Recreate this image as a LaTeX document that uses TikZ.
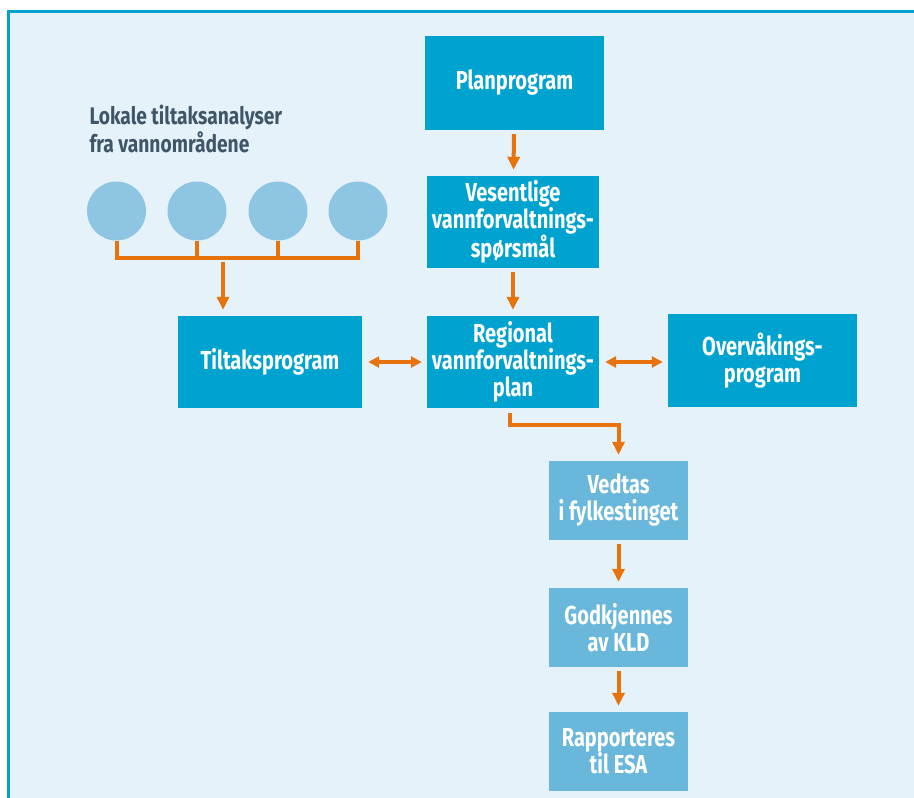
\documentclass[tikz,border=0pt]{standalone}
\usepackage{fontspec}
\newfontfamily\condfont{Fira Sans}[FakeStretch=0.8]
\newfontfamily\narrowfont{Fira Sans}[FakeStretch=0.77]
\usetikzlibrary{arrows.meta}
\definecolor{framebg}{HTML}{E6F2F9}
\definecolor{darkbox}{HTML}{00A3CF}
\definecolor{lightbox}{HTML}{69B8DC}
\definecolor{dotblue}{HTML}{8DC5E3}
\definecolor{flow}{HTML}{E8730C}
\definecolor{headtext}{HTML}{3F5669}
\tikzset{
  mainbox/.style={fill=darkbox, text=white, align=center, inner sep=0pt,
    font={\narrowfont\bfseries\fontsize{26}{27}\selectfont}},
  stepbox/.style={mainbox, fill=lightbox, minimum width=139pt, minimum height=79pt},
  dot/.style={circle, fill=dotblue, minimum size=59pt, inner sep=0pt},
}
\begin{document}
\begin{tikzpicture}[x=1pt, y=-1pt]
\useasboundingbox (0,0) rectangle (914,798);
\fill[white] (0,0) rectangle (914,798);
\fill[framebg] (10,13) rectangle (914,798);
\draw[darkbox, line width=3pt] (8.5,798) -- (8.5,11.5) -- (914,11.5);
% header
\node[anchor=north west, align=left, text=headtext,
  font={\condfont\bfseries\fontsize{24}{28}\selectfont}] (head) at (86,102)
  {Lokale tiltaksanalyser\\fra vannområdene};
% the four local analyses
\foreach \i/\x in {1/116.5, 2/197, 3/278, 4/358}
  \node[dot] (c\i) at (\x,211) {};
% boxes
\node[mainbox, minimum width=179pt, minimum height=94pt] (plan) at (514.5,83) {Planprogram};
\node[mainbox, minimum width=172pt, minimum height=92pt] (vesent) at (513,222)
  {Vesentlige\\vannforvaltnings-\\spørsmål};
\node[mainbox, minimum width=172pt, minimum height=92pt] (regional) at (513,362)
  {Regional\\vannforvaltnings-\\plan};
\node[mainbox, minimum width=184pt, minimum height=92pt] (tiltak) at (270,362) {Tiltaksprogram};
\node[mainbox, minimum width=189pt, minimum height=93pt] (overv) at (762.5,360.5)
  {Overvåkings-\\program};
\node[stepbox] (vedtas) at (618.5,500.5) {Vedtas\\i fylkestinget};
\node[stepbox] (godkj) at (618.5,627.5) {Godkjennes\\av KLD};
\node[stepbox] (rapport) at (618.5,751.5) {Rapporteres\\til ESA};
\coordinate (bus) at (223,258);
\begin{scope}[flow, line width=4pt]
\foreach \i in {1,...,4}
  \draw (c\i.south) -- (c\i.south |- bus);
\draw[line cap=rect] (c1.south |- bus) -- (c4.south |- bus);
\end{scope}
\begin{scope}[flow, line width=4pt, -{Triangle[length=13pt, width=12pt]},
  shorten <=4pt, shorten >=6pt]
\draw (bus) -- (bus |- tiltak.north);
\draw (plan) -- (vesent);
\draw (vesent) -- (regional);
\draw (vedtas) -- (godkj);
\draw (godkj) -- (rapport);
\draw[shorten <=5pt] ([xshift=-3pt]regional.south) |- (618.5,425) -- (vedtas.north);
\end{scope}
\begin{scope}[flow, line width=4pt, {Triangle[length=11pt, width=11pt]}-{Triangle[length=11pt, width=11pt]},
  shorten <=6pt, shorten >=5pt]
\draw (tiltak.east) -- (regional.west);
\draw (regional.east) -- (regional.east -| overv.west);
\end{scope}
\end{tikzpicture}
\end{document}
